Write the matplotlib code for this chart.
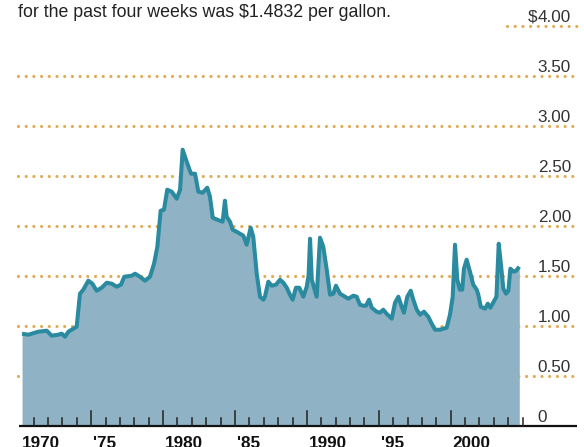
import numpy as np
import matplotlib
matplotlib.use("Agg")
import matplotlib.pyplot as plt

plt.rcParams['font.family'] = ['Liberation Sans', 'DejaVu Sans']

# price per gallon
years = [1970.19, 1970.63, 1971.32, 1971.91, 1972.25, 1972.71, 1972.95, 1973.18, 1973.41, 1973.76,
         1973.99, 1974.22, 1974.45, 1974.80, 1975.08, 1975.38, 1975.73, 1976.08, 1976.43, 1976.77,
         1977.07, 1977.30, 1977.82, 1978.05, 1978.39, 1978.74, 1979.09, 1979.37, 1979.60, 1979.83,
         1980.06, 1980.29, 1980.60, 1980.95, 1981.18, 1981.36, 1981.64, 1981.94, 1982.22, 1982.45,
         1982.75, 1983.07, 1983.26, 1983.45, 1983.77, 1984.14, 1984.30, 1984.42, 1984.65, 1984.84,
         1985.23, 1985.58, 1985.81, 1986.09, 1986.27, 1986.51, 1986.74, 1986.97, 1987.08, 1987.32,
         1987.55, 1987.85, 1988.13, 1988.36, 1988.60, 1988.82, 1989.01, 1989.24, 1989.47, 1989.75,
         1989.99, 1990.12, 1990.22, 1990.34, 1990.68, 1990.91, 1991.14, 1991.38, 1991.61, 1991.84,
         1992.02, 1992.30, 1992.65, 1992.88, 1993.23, 1993.46, 1993.69, 1993.92, 1994.11, 1994.32,
         1994.51, 1994.85, 1995.08, 1995.31, 1995.54, 1995.90, 1996.13, 1996.36, 1996.59, 1996.75,
         1996.98, 1997.22, 1997.40, 1997.64, 1997.87, 1998.14, 1998.44, 1998.68, 1998.91, 1999.26,
         1999.49, 1999.72, 1999.95, 2000.14, 2000.30, 2000.46, 2000.64, 2000.80, 2000.92, 2001.11,
         2001.34, 2001.57, 2001.81, 2001.92, 2002.09, 2002.39, 2002.58, 2002.76, 2002.99, 2003.18,
         2003.34, 2003.51, 2003.66, 2003.85, 2004.01, 2004.15, 2004.38, 2004.55, 2004.77]
prices = [0.92, 0.91, 0.94, 0.95, 0.90, 0.91, 0.92, 0.89, 0.94, 0.97,
          0.99, 1.32, 1.36, 1.45, 1.42, 1.35, 1.38, 1.43, 1.42, 1.39,
          1.41, 1.49, 1.50, 1.52, 1.49, 1.45, 1.49, 1.62, 1.79, 2.15,
          2.16, 2.36, 2.34, 2.27, 2.36, 2.76, 2.64, 2.52, 2.52, 2.34,
          2.33, 2.38, 2.29, 2.08, 2.06, 2.04, 2.25, 2.09, 2.04, 1.96,
          1.93, 1.90, 1.81, 1.98, 1.89, 1.52, 1.29, 1.26, 1.29, 1.44,
          1.40, 1.41, 1.46, 1.43, 1.38, 1.31, 1.26, 1.38, 1.38, 1.29,
          1.39, 1.51, 1.87, 1.46, 1.29, 1.88, 1.79, 1.56, 1.31, 1.32,
          1.40, 1.32, 1.29, 1.27, 1.30, 1.29, 1.21, 1.20, 1.20, 1.26,
          1.18, 1.14, 1.13, 1.16, 1.12, 1.07, 1.23, 1.29, 1.19, 1.13,
          1.29, 1.35, 1.26, 1.16, 1.11, 1.14, 1.09, 1.02, 0.96, 0.96,
          0.97, 0.98, 1.11, 1.29, 1.81, 1.46, 1.36, 1.36, 1.57, 1.66,
          1.54, 1.41, 1.36, 1.31, 1.19, 1.17, 1.22, 1.18, 1.24, 1.29,
          1.82, 1.59, 1.37, 1.32, 1.35, 1.57, 1.54, 1.55, 1.59]

grid_values = [0.5, 1.0, 1.5, 2.0, 2.5, 3.0, 3.5, 4.0]
y_labels = ['0', '0.50', '1.00', '1.50', '2.00', '2.50', '3.00', '3.50', '$4.00']
y_label_values = [0, 0.5, 1.0, 1.5, 2.0, 2.5, 3.0, 3.5, 4.0]
tick_years = list(range(1971, 2006))
major_years = [1970, 1975, 1980, 1985, 1990, 1995, 2000]
major_labels = ['1970', "'75", '1980', "'85", '1990', "'95", '2000']

title = "for the past four weeks was $1.4832 per gallon."

line_color = '#2a8aa0'
fill_color = '#8fb3c4'
grid_color = '#e0ac55'

fig = plt.figure(figsize=(5.84, 4.47), dpi=100)
ax = fig.add_axes([0, 0, 1, 1])
# axes span the whole figure: 14.38 px per year, 100 px per dollar
ax.set_xlim(1968.658, 2009.27)
ax.set_ylim(-0.213, 4.257)
ax.axis('off')

# dotted guides
for v in grid_values:
    x0 = 2003.9 if v == 4.0 else 1969.91
    ax.plot([x0, 2008.78], [v, v], color=grid_color, lw=2.3,
            dashes=[0.01, 2.4], dash_capstyle='round', zorder=1)

ax.fill_between(years, prices, 0, color=fill_color, lw=0, zorder=2)
ax.plot(years, prices, color=line_color, lw=2.9, solid_joinstyle='round',
        solid_capstyle='butt', zorder=4)

# baseline and ticks
ax.plot([1969.98, 2008.78], [0, 0], color='#111111', lw=1.6, zorder=5,
        solid_capstyle='butt')
for yr in tick_years:
    h = 0.15 if yr in major_years else 0.075
    ax.plot([yr, yr], [0, h], color='#222222', lw=1.1, zorder=5)

for yr, lab in zip(major_years, major_labels):
    ax.text(yr + 0.15, -0.105, lab, ha='left', va='top', fontsize=12.3,
            fontweight='bold', color='#111111')

for v, lab in zip(y_label_values, y_labels):
    x = 2006.05
    if lab.startswith('$'):
        ax.text(x, v + 0.04, '$', ha='right', va='baseline', fontsize=12.3, color='#333333')
        lab = lab[1:]
    ax.text(x, v + 0.04, lab, ha='left', va='baseline', fontsize=12.3, color='#333333')

fig.text(18 / 584, 1 - 4 / 447, title, ha='left', va='top', fontsize=12.8, color='#222222')

plt.savefig('out.png', dpi=100)
